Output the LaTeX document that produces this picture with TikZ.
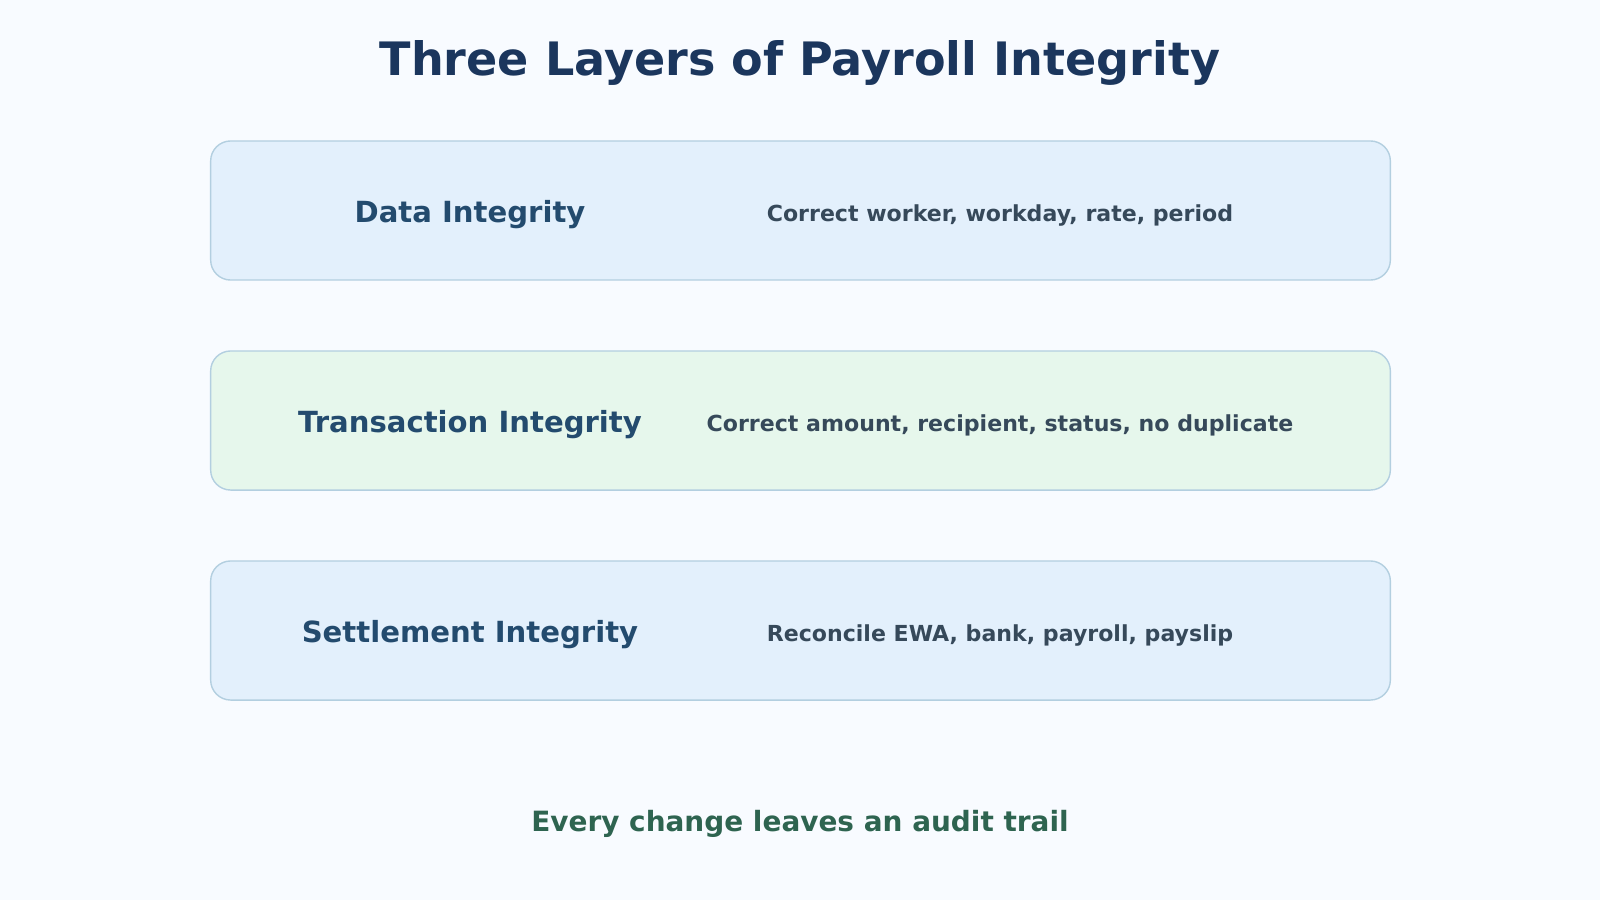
\documentclass[tikz,border=0pt]{standalone}
\usepackage{fontspec}
\setmainfont{DejaVu Sans}
\usetikzlibrary{positioning}

\definecolor{bgcol}{HTML}{F8FBFF}
\definecolor{bluebox}{HTML}{E3F0FC}
\definecolor{greenbox}{HTML}{E6F7EC}
\definecolor{boxline}{HTML}{B3CFE0}
\definecolor{titlecol}{HTML}{1B365D}
\definecolor{namecol}{HTML}{234B6E}
\definecolor{desccol}{HTML}{36495A}
\definecolor{footcol}{HTML}{2E6450}

\begin{document}
\begin{tikzpicture}[x=0.01cm, y=-0.01cm,
    layer/.style = {draw=boxline, line width=0.4pt, rounded corners=0.2cm, minimum width=11.79cm, minimum height=1.39cm},
    layername/.style = {text=namecol, font=\fontsize{8.28}{10}\selectfont\bfseries},
    layerdesc/.style = {text=desccol, font=\fontsize{6.28}{8}\selectfont\bfseries}]

    \fill[bgcol] (0,0) rectangle (1600,900);

    \node[text=titlecol, font=\fontsize{13.1}{16}\selectfont\bfseries] (title) at (800, 63) {Three Layers of Payroll Integrity};

    \node[layer, fill=bluebox] (data) at (800.5, 210.5) {};
    \node[layername] (dataname) at (470, 215) {Data Integrity};
    \node[layerdesc] (datadesc) at (1000, 215) {Correct worker, workday, rate, period};

    \node[layer, fill=greenbox] (trans) at (800.5, 420.5) {};
    \node[layername] (transname) at (470, 425) {Transaction Integrity};
    \node[layerdesc] (transdesc) at (1000, 425) {Correct amount, recipient, status, no duplicate};

    \node[layer, fill=bluebox] (settle) at (800.5, 630.5) {};
    \node[layername] (settlename) at (470, 635) {Settlement Integrity};
    \node[layerdesc] (settledesc) at (1000, 635) {Reconcile EWA, bank, payroll, payslip};

    \node[text=footcol, font=\fontsize{7.94}{10}\selectfont\bfseries] (foot) at (800, 824) {Every change leaves an audit trail};

\end{tikzpicture}
\end{document}
